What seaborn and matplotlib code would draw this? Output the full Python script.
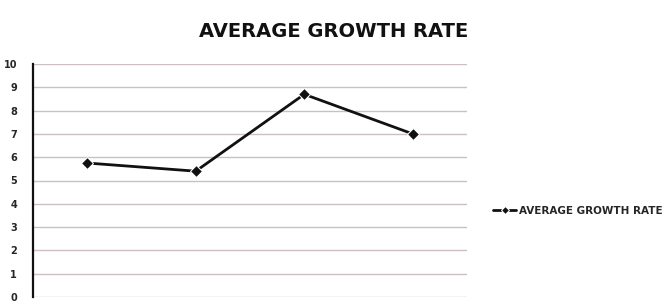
import matplotlib
matplotlib.use("Agg")
import matplotlib.pyplot as plt
import seaborn as sns
import pandas as pd
import numpy as np

periods = ["Period 1", "Period 2", "Period 3", "Period 4"]
growth_rate = [5.75, 5.4, 8.7, 7.0]
y_ticks = [0, 1, 2, 3, 4, 5, 6, 7, 8, 9, 10]
title = "AVERAGE GROWTH RATE"
series_name = "AVERAGE GROWTH RATE"

sns.set_theme(style="white")
plt.rcParams["font.family"] = ["DejaVu Sans"]

df = pd.DataFrame({"period": periods, "rate": growth_rate, "series": series_name})

fig = plt.figure(figsize=(6.64, 3.03), dpi=100)
ax = fig.add_axes([33 / 664, 1 - 297 / 303, (467 - 33) / 664, (297 - 64) / 303])

sns.lineplot(data=df, x="period", y="rate", hue="series", palette=["#111111"],
             marker="D", markersize=6, linewidth=2.0, sort=False, ax=ax)

ax.set_ylim(0, 10)
ax.set_xlim(-0.5, len(periods) - 0.5)
ax.set_yticks(y_ticks)
ax.set_yticklabels([str(v) for v in y_ticks], fontsize=7, fontweight="bold")
ax.yaxis.grid(True, color="#cdbfc0", linewidth=1.0)
ax.xaxis.grid(False)
ax.set_xticks(np.arange(len(periods) + 1) - 0.5)
ax.set_xticklabels([])
ax.tick_params(axis="x", length=3, width=0.8, color="#999999", direction="in")
ax.tick_params(axis="y", length=5, width=1.0, color="#222222", direction="inout", pad=9)
ax.set_xlabel("")
ax.set_ylabel("")
for s in ["top", "right", "bottom"]:
    ax.spines[s].set_visible(False)
ax.spines["left"].set_color("#111111")
ax.spines["left"].set_linewidth(1.6)

fig.text(0.503, 0.897, title, ha="center", va="center", fontsize=14, fontweight="bold",
         color="#111111")

handles, labels = ax.get_legend_handles_labels()
ax.legend(handles, labels, loc="center left", bbox_to_anchor=(484 / 664, 1 - 211 / 303),
          bbox_transform=fig.transFigure, frameon=False, handlelength=2.2,
          handletextpad=0.3, markerscale=0.7,
          prop={"size": 7.5, "weight": "bold"})

fig.savefig("out.png", dpi=100, facecolor="white")
